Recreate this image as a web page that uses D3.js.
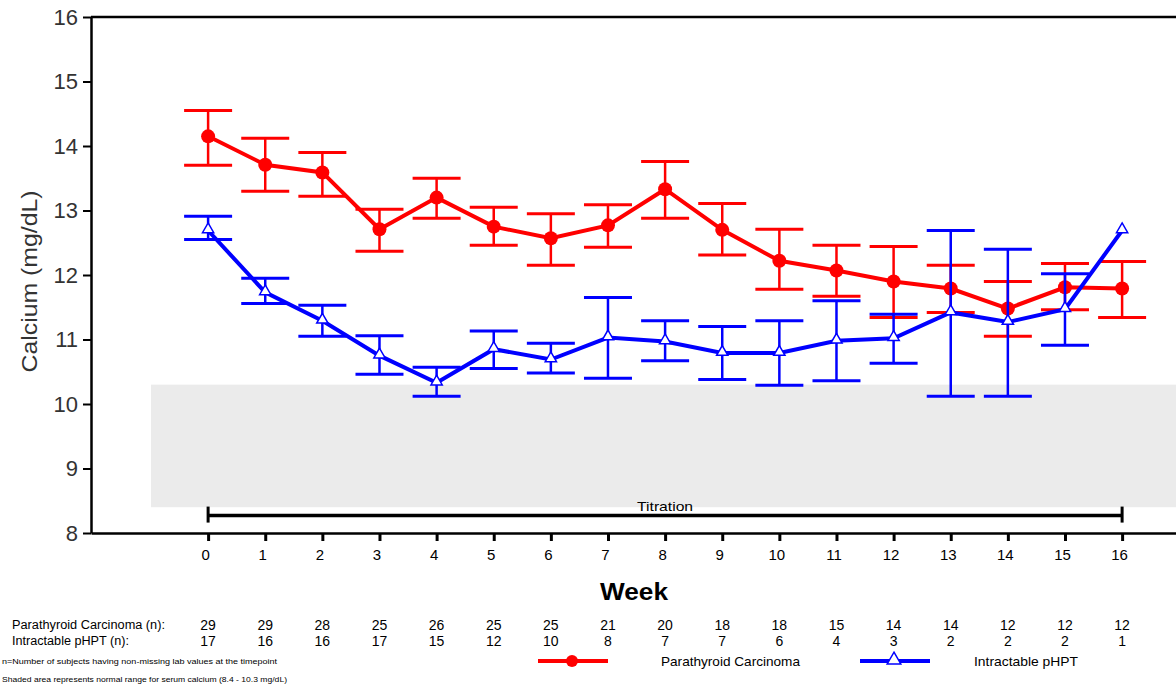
<!DOCTYPE html>
<html>
<head>
<meta charset="utf-8">
<script src="https://cdn.jsdelivr.net/npm/d3@7"></script>
<style>
    body { margin: 0; background: #fff; }
    svg { display: block; font-family: "Liberation Sans", Arial, sans-serif; }
</style>
</head>
<body>
<svg id="chart" width="1176" height="686"></svg>
<script>
// weeks on the x axis
var weeks = [0, 1, 2, 3, 4, 5, 6, 7, 8, 9, 10, 11, 12, 13, 14, 15, 16];

// Parathyroid Carcinoma: mean and error bar ends (mg/dL)
var pcMean  = [14.15, 13.71, 13.59, 12.71, 13.20, 12.75, 12.57, 12.77, 13.33, 12.70, 12.22, 12.07, 11.90, 11.79, 11.48, 11.81, 11.79];
var pcUpper = [14.55, 14.12, 13.90, 13.02, 13.50, 13.05, 12.95, 13.09, 13.76, 13.11, 12.71, 12.46, 12.44, 12.15, 11.90, 12.18, 12.21];
var pcLower = [13.70, 13.30, 13.22, 12.37, 12.88, 12.46, 12.15, 12.43, 12.88, 12.31, 11.78, 11.67, 11.34, 11.42, 11.05, 11.46, 11.34];

// Intractable pHPT: mean and error bar ends (mg/dL); week 16 has n=1, no bar
var ipMean  = [12.69, 11.73, 11.29, 10.75, 10.33, 10.85, 10.69, 11.03, 10.97, 10.79, 10.79, 10.98, 11.02, 11.42, 11.27, 11.47, 12.69];
var ipUpper = [12.91, 11.95, 11.53, 11.06, 10.57, 11.13, 10.94, 11.65, 11.29, 11.20, 11.29, 11.60, 11.39, 12.69, 12.40, 12.02, null];
var ipLower = [12.55, 11.56, 11.05, 10.46, 10.12, 10.55, 10.48, 10.40, 10.67, 10.38, 10.29, 10.36, 10.63, 10.12, 10.12, 10.91, null];

// subjects with non-missing values per week
var pcN = [29, 29, 28, 25, 26, 25, 25, 21, 20, 18, 18, 15, 14, 14, 12, 12, 12];
var ipN = [17, 16, 16, 17, 15, 12, 10, 8, 7, 7, 6, 4, 3, 2, 2, 2, 1];

var yTicks = [8, 9, 10, 11, 12, 13, 14, 15, 16];
var normalRange = [8.4, 10.3];
var titration = [0, 16];

var svg = d3.select("#chart");

var step = 57.125;
var x = d3.scaleLinear().domain([-2.05, 18]).range([91, 91 + 20.05 * step]);
var y = d3.scaleLinear().domain([8, 16]).range([533, 17]);

// shaded normal range
svg.append("rect")
    .attr("x", x(-1))
    .attr("y", y(normalRange[1]))
    .attr("width", x(18) - x(-1))
    .attr("height", y(normalRange[0]) - y(normalRange[1]))
    .attr("fill", "#ebebeb");

// top frame line
svg.append("line")
    .attr("x1", x(-2.05)).attr("x2", x(18))
    .attr("y1", y(16)).attr("y2", y(16))
    .attr("stroke", "#000").attr("stroke-width", 2.5);

// y axis
var yAxis = svg.append("g")
    .attr("transform", "translate(" + x(-2.05) + ",0)")
    .call(d3.axisLeft(y).tickValues(yTicks).tickSize(8).tickSizeOuter(0).tickPadding(5));
yAxis.select(".domain").attr("stroke-width", 2.5);
yAxis.selectAll(".tick line").attr("stroke-width", 2);
yAxis.selectAll(".tick text")
    .attr("font-size", 22)
    .attr("font-family", "Liberation Sans, Arial, sans-serif")
    .attr("fill", "#333");

// x axis
var xAxis = svg.append("g")
    .attr("transform", "translate(0," + y(8) + ")")
    .call(d3.axisBottom(x).tickValues(weeks).tickSize(8).tickSizeOuter(0).tickPadding(8));
xAxis.select(".domain").attr("stroke-width", 2.5);
xAxis.selectAll(".tick line").attr("stroke-width", 3);
xAxis.selectAll(".tick text")
    .attr("font-size", 15)
    .attr("font-family", "Liberation Sans, Arial, sans-serif")
    .attr("dx", -3)
    .attr("fill", "#000");

// titration bar
var tY = y(8.27);
svg.append("line")
    .attr("x1", x(titration[0])).attr("x2", x(titration[1]))
    .attr("y1", tY).attr("y2", tY)
    .attr("stroke", "#000").attr("stroke-width", 3.5);
svg.selectAll(".tcap").data(titration).enter().append("line")
    .attr("x1", d => x(d)).attr("x2", d => x(d))
    .attr("y1", tY - 9).attr("y2", tY + 7)
    .attr("stroke", "#000").attr("stroke-width", 3);
svg.append("text")
    .attr("x", x(8)).attr("y", tY - 5)
    .attr("text-anchor", "middle")
    .attr("font-size", 13)
    .attr("textLength", 56).attr("lengthAdjust", "spacingAndGlyphs")
    .text("Titration");

function series (mean, upper, lower, color) {
    var g = svg.append("g");
    var rows = weeks.map((w, i) => ({w: w, m: mean[i], hi: upper[i], lo: lower[i]}));
    var bars = rows.filter(r => r.hi != null);

    g.selectAll(".bar").data(bars).enter().append("line")
        .attr("x1", d => x(d.w)).attr("x2", d => x(d.w))
        .attr("y1", d => y(d.hi)).attr("y2", d => y(d.lo))
        .attr("stroke", color).attr("stroke-width", 2.5);
    ["hi", "lo"].forEach(k => {
        g.selectAll(".cap-" + k).data(bars).enter().append("line")
            .attr("x1", d => x(d.w) - 24).attr("x2", d => x(d.w) + 24)
            .attr("y1", d => y(d[k])).attr("y2", d => y(d[k]))
            .attr("stroke", color).attr("stroke-width", 3);
    });

    g.append("path")
        .datum(rows)
        .attr("fill", "none")
        .attr("stroke", color)
        .attr("stroke-width", 4)
        .attr("d", d3.line().x(d => x(d.w)).y(d => y(d.m)));
    return {g: g, rows: rows};
}

var pc = series(pcMean, pcUpper, pcLower, "#ff0000");
pc.g.selectAll(".dot").data(pc.rows).enter().append("circle")
    .attr("cx", d => x(d.w)).attr("cy", d => y(d.m))
    .attr("r", 7).attr("fill", "#ff0000");

var ip = series(ipMean, ipUpper, ipLower, "#0000ff");
var tri = d3.symbol().type(d3.symbolTriangle).size(55);
ip.g.selectAll(".tri").data(ip.rows).enter().append("path")
    .attr("transform", d => "translate(" + x(d.w) + "," + (y(d.m) - 1) + ")")
    .attr("d", tri)
    .attr("fill", "#fff").attr("stroke", "#0000ff").attr("stroke-width", 1.5);

// axis titles
svg.append("text")
    .attr("transform", "translate(37," + y(11.9) + ") rotate(-90)")
    .attr("text-anchor", "middle")
    .attr("font-size", 22)
    .attr("textLength", 182).attr("lengthAdjust", "spacingAndGlyphs")
    .attr("fill", "#333")
    .text("Calcium (mg/dL)");
svg.append("text")
    .attr("x", 634).attr("y", 600)
    .attr("text-anchor", "middle")
    .attr("font-size", 24).attr("font-weight", "bold")
    .attr("textLength", 68).attr("lengthAdjust", "spacingAndGlyphs")
    .text("Week");

// n table
var nRows = [
    {label: "Parathyroid Carcinoma (n):", values: pcN, y: 629, len: 153},
    {label: "Intractable pHPT (n):", values: ipN, y: 645, len: 117}
];
nRows.forEach(r => {
    svg.append("text")
        .attr("x", 12).attr("y", r.y)
        .attr("font-size", 12)
        .attr("textLength", r.len).attr("lengthAdjust", "spacingAndGlyphs")
        .text(r.label);
    svg.selectAll(null).data(r.values).enter().append("text")
        .attr("x", (d, i) => x(weeks[i]))
        .attr("y", r.y + 1)
        .attr("text-anchor", "middle")
        .attr("font-size", 14)
        .text(d => d);
});

// footnotes
svg.append("text").attr("x", 2).attr("y", 664).attr("font-size", 7)
    .attr("textLength", 275).attr("lengthAdjust", "spacingAndGlyphs")
    .text("n=Number of subjects having non-missing lab values at the timepoint");
svg.append("text").attr("x", 2).attr("y", 682).attr("font-size", 7)
    .attr("textLength", 285).attr("lengthAdjust", "spacingAndGlyphs")
    .text("Shaded area represents normal range for serum calcium (8.4 - 10.3 mg/dL)");

// legend
var legend = [
    {name: "Parathyroid Carcinoma", color: "#ff0000", x0: 538, tx: 661, len: 139, mark: "dot"},
    {name: "Intractable pHPT", color: "#0000ff", x0: 860, tx: 974, len: 104, mark: "tri"}
];
legend.forEach(l => {
    var ly = 661;
    svg.append("line")
        .attr("x1", l.x0).attr("x2", l.x0 + 70)
        .attr("y1", ly).attr("y2", ly)
        .attr("stroke", l.color).attr("stroke-width", 4);
    if (l.mark === "dot") {
        svg.append("circle").attr("cx", l.x0 + 34).attr("cy", ly).attr("r", 6).attr("fill", l.color);
    } else {
        svg.append("path")
            .attr("transform", "translate(" + (l.x0 + 34) + "," + (ly - 1) + ")")
            .attr("d", d3.symbol().type(d3.symbolTriangle).size(80))
            .attr("fill", "#fff").attr("stroke", l.color).attr("stroke-width", 1.5);
    }
    svg.append("text")
        .attr("x", l.tx).attr("y", ly + 5)
        .attr("font-size", 13)
        .attr("textLength", l.len).attr("lengthAdjust", "spacingAndGlyphs")
        .text(l.name);
});
</script>
</body>
</html>
